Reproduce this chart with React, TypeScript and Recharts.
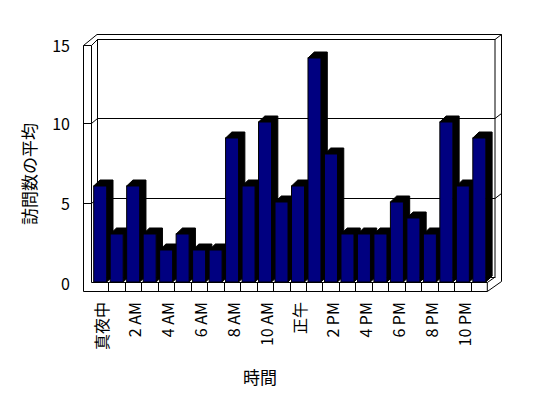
import { BarChart, Bar, XAxis, YAxis, Customized, Label } from "recharts";

const hours = [
  "真夜中", "1 AM", "2 AM", "3 AM", "4 AM", "5 AM", "6 AM", "7 AM", "8 AM", "9 AM", "10 AM", "11 AM",
  "正午", "1 PM", "2 PM", "3 PM", "4 PM", "5 PM", "6 PM", "7 PM", "8 PM", "9 PM", "10 PM", "11 PM",
];
const visits = [6, 3, 6, 3, 2, 3, 2, 2, 9, 6, 10, 5, 6, 14, 8, 3, 3, 3, 5, 4, 3, 10, 6, 9];
const yTicks = [0, 5, 10, 15];

const data = hours.map((hour, i) => ({ hour, visits: visits[i] }));

// plot box (page coords, chart sits at 0,0)
const W = 548;
const H = 398;
const L = 91.7;
const R = 487.3;
const T = 42;
const B = 282;
const Y_MAX = 15;
const FONT = "'Noto Sans CJK JP', 'Noto Sans', sans-serif";

const frontY = (v: number) => B - (v / Y_MAX) * (B - T);
const backY = (v: number) => frontY(v) - 4;

const Walls = () => {
  const step = (R - L) / hours.length;
  const ln = { stroke: "#000", strokeWidth: 1, fill: "none" } as const;
  return (
    <g>
      {/* back wall */}
      <rect x={97.5} y={39.5} width={397.5} height={238} fill="#fff" {...ln} />
      <polyline points={`97,34.5 501.5,34.5 501.5,281.5`} {...ln} />
      <line x1={495} y1={39.5} x2={501.5} y2={34.5} {...ln} />
      {yTicks.filter((v) => v > 0 && v < Y_MAX).map((v) => (
        <g key={v}>
          <line x1={97.5} y1={backY(v) + 0.5} x2={495} y2={backY(v) + 0.5} {...ln} />
          <line x1={495} y1={backY(v) + 0.5} x2={501.5} y2={backY(v) - 4.5} {...ln} />
        </g>
      ))}
      {/* left wall */}
      <line x1={83.5} y1={45.5} x2={83.5} y2={291.5} {...ln} />
      <line x1={91.5} y1={45.5} x2={91.5} y2={282.5} {...ln} />
      <line x1={83.5} y1={45.5} x2={91.5} y2={45.5} {...ln} />
      <line x1={83.5} y1={45.5} x2={97} y2={34.5} {...ln} />
      <line x1={91.5} y1={45.5} x2={97.5} y2={39.5} {...ln} />
      {yTicks.filter((v) => v > 0 && v < Y_MAX).map((v) => (
        <g key={v}>
          <line x1={83.5} y1={frontY(v) + 1.5} x2={91.5} y2={frontY(v) + 1.5} {...ln} />
          <line x1={91.5} y1={frontY(v) + 1.5} x2={97.5} y2={backY(v) + 0.5} {...ln} />
        </g>
      ))}
      {/* floor */}
      <line x1={91.5} y1={282.5} x2={R} y2={282.5} {...ln} />
      <line x1={83.5} y1={291.5} x2={R} y2={291.5} {...ln} />
      {hours.map((_, i) =>
        i === 0 ? null : (
          <line key={i} x1={Math.round(L + i * step) + 0.5} y1={282.5} x2={Math.round(L + i * step) + 0.5} y2={291.5} {...ln} />
        )
      )}
      <line x1={R} y1={282.5} x2={494.5} y2={277.5} {...ln} />
      <line x1={R} y1={291.5} x2={501.5} y2={281.5} {...ln} />
      <line x1={R} y1={282.5} x2={R} y2={291.5} {...ln} />
    </g>
  );
};

const Column3D = (props: any) => {
  const { x, y, width, height } = props;
  const dx = 6.3;
  const dy = -6;
  return (
    <g>
      <polygon
        points={`${x},${y} ${x + dx},${y + dy} ${x + width + dx},${y + dy} ${x + width + dx},${y + height + dy} ${x + width},${y + height} ${x + width},${y}`}
        fill="#000"
        stroke="#000"
      />
      <rect x={x} y={y} width={width} height={height} fill="#000080" stroke="#000" strokeWidth={1} />
    </g>
  );
};

const HourTick = (props: any) => {
  const { x, payload } = props;
  return (
    <text
      transform={`translate(${x + 1},302) rotate(-90)`}
      textAnchor="end"
      dominantBaseline="central"
      fontSize={16}
      fontFamily={FONT}
      fill="#000"
    >
      {payload.value}
    </text>
  );
};

const ValueTick = (props: any) => {
  const { y, payload } = props;
  return (
    <text x={70} y={y + (payload.value === Y_MAX ? 3 : 1)} textAnchor="end" dominantBaseline="central" fontSize={16} fontFamily={FONT} fill="#000">
      {payload.value}
    </text>
  );
};

const App = () => {
  return (
    <div style={{ position: "absolute", left: 0, top: 0, background: "#fff" }}>
      <BarChart
        width={W}
        height={H}
        data={data}
        margin={{ top: T, right: W - R, bottom: 0, left: 0 }}
        barSize={13}
      >
        <Customized component={<Walls />} />
        <XAxis
          dataKey="hour"
          height={H - B}
          interval={1}
          axisLine={false}
          tickLine={false}
          tick={<HourTick />}
        >
          <Label
            content={() => (
              <text x={260} y={376} textAnchor="middle" dominantBaseline="central" fontSize={17} fontFamily={FONT} fill="#000">
                時間
              </text>
            )}
          />
        </XAxis>
        <YAxis
          width={L}
          domain={[0, Y_MAX]}
          ticks={yTicks}
          axisLine={false}
          tickLine={false}
          tick={<ValueTick />}
        >
          <Label
            content={() => (
              <text
                transform={`translate(28,174) rotate(-90)`}
                textAnchor="middle"
                dominantBaseline="central"
                fontSize={17}
                fontFamily={FONT}
                fill="#000"
              >
                訪問数の平均
              </text>
            )}
          />
        </YAxis>
        <Bar dataKey="visits" shape={<Column3D />} isAnimationActive={false} />
      </BarChart>
    </div>
  );
};

export default App;
